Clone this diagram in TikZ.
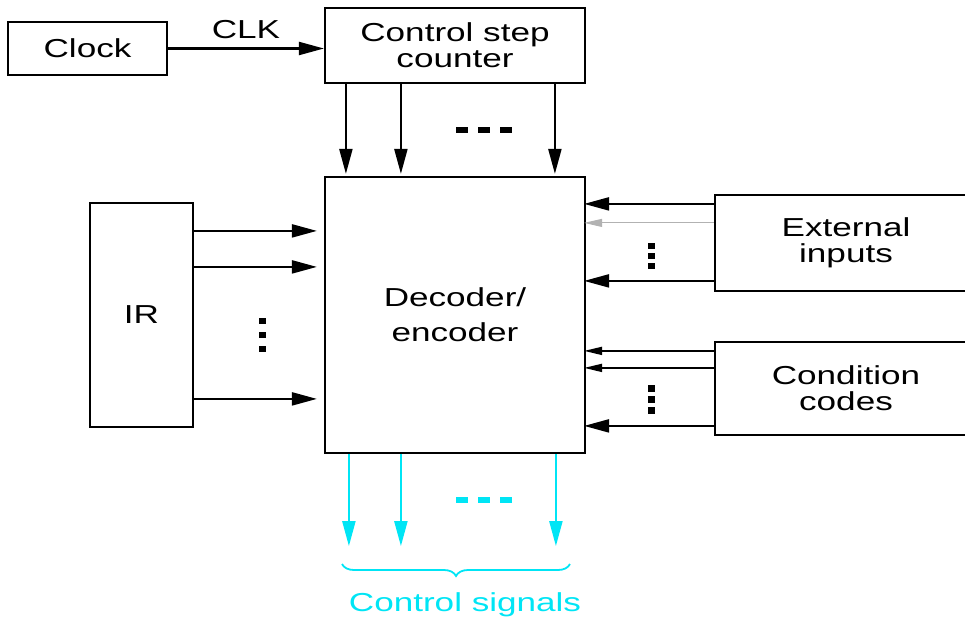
\documentclass[tikz,border=0pt]{standalone}
\usepackage{fontspec}
\setmainfont{Liberation Sans}[FakeStretch=1.35]
\usetikzlibrary{arrows.meta,calc,decorations.pathreplacing}
\definecolor{sigcyan}{RGB}{0,229,245}

\begin{document}
\begin{tikzpicture}[x=1pt, y=-1pt, font=\fontsize{26}{26}\selectfont,
	box/.style={draw, line width=2.2pt, inner sep=0pt, align=center},
	arr/.style={line width=2.2pt, -{Triangle[length=25pt,width=13pt]}},
	thinarr/.style={line width=1pt, -{Triangle[length=18pt,width=8pt]}},
	hdots/.style={line width=6pt, dash pattern=on 12pt off 10pt},
	vdots/.style={line width=7pt, dash pattern=on 6pt off 8pt}]
	\useasboundingbox (0,0) rectangle (965,624);
	\clip (0,0) rectangle (965,624);

	% boxes
	\node[box, minimum width=159pt, minimum height=53pt] (clock) at (87.5,48.5) {Clock};
	\node[box, minimum width=260pt, minimum height=75pt] (counter) at (455,45.5) {Control step\\counter};
	\node[box, minimum width=260pt, minimum height=276pt, font=\fontsize{26}{35}\selectfont] (decoder) at (455,315) {Decoder/\\encoder};
	\node[box, minimum width=103pt, minimum height=224pt] (ir) at (141.5,315) {IR};
	\node[box, minimum width=262pt, minimum height=96pt] (ext) at (846,243) {External\\inputs};
	\node[box, minimum width=262pt, minimum height=93pt] (cond) at (846,388.5) {Condition\\codes};

	% clock to counter
	\draw[arr] (clock.east) -- (clock.east -| counter.west) node[midway, above=5pt] (clk) {CLK};

	% counter to decoder
	\foreach \d in {22,77,231}
		\draw[arr] ($(counter.south west)+(\d,0)$) -- ($(decoder.north west)+(\d,-2)$);
	\draw[hdots] (456,130) -- (512,130);

	% IR to decoder
	\foreach \d [count=\i] in {29,65,197} {
		\coordinate (ir\i) at ($(ir.north east)+(0,\d)$);
		\draw[arr, shorten >=7pt] (ir\i) -- (ir\i -| decoder.west);
	}
	\draw[vdots] (262,318) -- (262,352);

	% external inputs to decoder
	\coordinate (ext1) at ($(ext.north west)+(0,10)$);
	\coordinate (ext2) at ($(ext.north west)+(0,29)$);
	\coordinate (ext3) at ($(ext.north west)+(0,87)$);
	\draw[arr, shorten >=-2pt] (ext1) -- (ext1 -| decoder.east);
	\draw[thinarr, gray!60, shorten >=-2pt] (ext2) -- (ext2 -| decoder.east);
	\draw[arr, shorten >=-2pt] (ext3) -- (ext3 -| decoder.east);
	\draw[vdots, dash pattern=on 6pt off 4pt] (651,243) -- (651,269);

	% condition codes to decoder
	\coordinate (cond1) at ($(cond.north west)+(0,10)$);
	\coordinate (cond2) at ($(cond.north west)+(0,27)$);
	\coordinate (cond3) at ($(cond.north west)+(0,85)$);
	\draw[thinarr, line width=1.8pt, shorten >=-2pt] (cond1) -- (cond1 -| decoder.east);
	\draw[thinarr, line width=1.8pt, shorten >=-2pt] (cond2) -- (cond2 -| decoder.east);
	\draw[arr, shorten >=-2pt] (cond3) -- (cond3 -| decoder.east);
	\draw[vdots, dash pattern=on 7pt off 4pt] (651,385) -- (651,414);

	% control signals
	\foreach \d in {25,77,232}
		\draw[arr, sigcyan] ($(decoder.south west)+(\d,0)$) -- ($(decoder.south west)+(\d,92)$);
	\draw[hdots, sigcyan] (456,500) -- (512,500);
	\node[text=sigcyan] (sig) at (465,605) {Control signals};
	\draw[sigcyan, line width=1.8pt, decorate, decoration={brace, mirror, amplitude=12pt}]
		(342,564) -- (570,564);
\end{tikzpicture}
\end{document}
